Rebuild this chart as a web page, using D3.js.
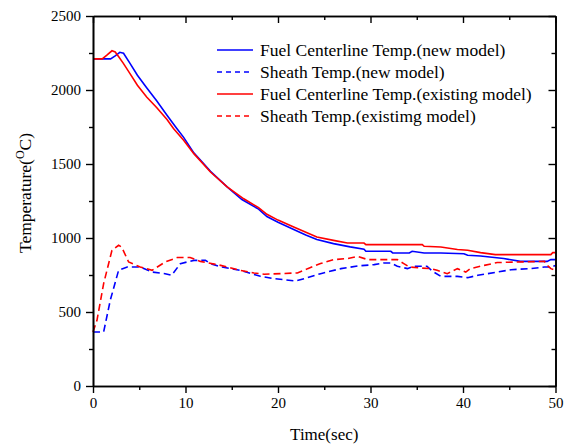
<!DOCTYPE html>
<html>
<head>
<meta charset="utf-8">
<script src="https://cdn.jsdelivr.net/npm/d3@7"></script>
<style>
  html, body { margin: 0; padding: 0; background: #fff; }
  svg { display: block; }
  text { font-family: "Liberation Serif", "Times New Roman", serif; fill: #000; }
</style>
</head>
<body>
<svg id="chart" width="571" height="446"></svg>
<script>
// ---- Data (time in sec, temperature in °C) ----
const fuelNew = [
  [0,2210],[1.9,2210],[2.4,2230],[2.9,2255],[3.3,2248],[4.0,2180],[4.8,2100],[5.8,2015],
  [6.9,1925],[8.0,1830],[9.0,1745],[9.8,1680],[10.9,1575],[12.0,1500],[12.7,1450],[14.5,1345],
  [16.1,1260],[17.9,1195],[18.8,1145],[20.0,1107],[21.7,1057],[23.0,1020],[24.2,990],[26.0,962],
  [27.8,940],[29.3,924],[29.5,910],[32.2,910],[32.4,899],[34.2,899],[34.5,910],[35.8,899],
  [37.6,899],[40.1,894],[40.5,883],[41.9,878],[44.4,861],[46.2,842],[49.1,842],[49.5,854],[50,854]
];
const sheathNew = [
  [0,365],[1.15,365],[1.87,580],[2.77,782],[3.7,804],[5.1,804],[6.4,770],[7.8,759],[8.5,748],
  [9.45,827],[10.9,849],[12.15,849],[12.7,827],[13.8,806],[15.9,782],[18.1,741],[19.5,726],
  [21.9,709],[23.2,732],[24.6,759],[26.8,793],[28.6,811],[30.4,820],[31.4,831],[32.2,831],
  [32.9,809],[34.0,793],[34.7,809],[36.1,809],[36.7,775],[37.6,741],[39.4,741],[40.5,732],
  [41.6,748],[43.7,770],[45.2,786],[47.3,793],[48.8,804],[49.5,804],[50,815]
];
const fuelExisting = [
  [0,2210],[1.0,2210],[1.5,2235],[2.05,2265],[2.4,2257],[2.8,2223],[3.3,2178],[4.0,2111],
  [4.8,2032],[5.8,1953],[6.9,1880],[8.0,1800],[8.7,1740],[9.8,1660],[10.9,1570],[12.7,1446],
  [14.5,1345],[16.3,1265],[17.9,1205],[18.8,1160],[20.0,1121],[21.7,1074],[24.2,1007],[26.0,984],
  [27.5,966],[29.3,966],[29.5,955],[35.6,955],[35.8,944],[37.6,939],[39.4,922],[40.5,917],
  [41.9,901],[43.5,888],[49.5,888],[49.7,901],[50,901]
];
const sheathExisting = [
  [0,365],[0.43,444],[1.15,692],[2.05,917],[2.77,951],[3.1,939],[3.85,838],[5.1,804],[6.4,782],
  [7.8,838],[9.1,868],[10.5,868],[11.6,842],[13.8,815],[15.9,782],[17.4,764],[18.5,755],
  [22.1,764],[23.2,793],[24.6,827],[26.0,854],[27.5,861],[28.6,876],[29.7,854],[30.7,854],
  [32.9,854],[33.6,827],[34.2,804],[35.5,797],[36.5,793],[37.2,782],[38.3,759],[39.4,793],
  [40.3,770],[40.8,793],[42.3,815],[43.7,834],[45.9,838],[48.8,842],[49.1,815],[49.5,793],[50,782]
];
const xMajorTicks = [0,10,20,30,40,50];
const xMinorTicks = [5,15,25,35,45];
const yMajorTicks = [0,500,1000,1500,2000,2500];
const yMinorTicks = [250,750,1250,1750,2250];
const legendLabels = [
  "Fuel Centerline Temp.(new model)",
  "Sheath Temp.(new model)",
  "Fuel Centerline Temp.(existing model)",
  "Sheath Temp.(existimg model)"
];
const xTitle = "Time(sec)";

// ---- Layout ----
const svg = d3.select("#chart");
const L = 93, R = 555.5, T = 16, B = 386;
const x = d3.scaleLinear().domain([0,50]).range([L,R]);
const y = d3.scaleLinear().domain([0,2500]).range([B,T]);

const BLUE = "#0000ff", RED = "#ff0000";
const series = [
  {data: fuelNew, color: BLUE, dash: null},
  {data: sheathNew, color: BLUE, dash: "7,4"},
  {data: fuelExisting, color: RED, dash: null},
  {data: sheathExisting, color: RED, dash: "7,4"}
];

const line = d3.line().x(d => x(d[0])).y(d => y(d[1]));
const plot = svg.append("g");
series.forEach(s => {
  plot.append("path")
    .attr("d", line(s.data))
    .attr("fill","none")
    .attr("stroke", s.color)
    .attr("stroke-width", 1.6)
    .attr("stroke-dasharray", s.dash);
});

// ---- Axes ----
function styleAxis(g){
  g.selectAll(".domain").attr("stroke","#000").attr("stroke-width",1.6);
  g.selectAll(".tick line").attr("stroke","#000").attr("stroke-width",1.4);
  g.selectAll(".tick text").style("font-family","Liberation Serif").style("font-size","15px").attr("fill","#000");
}
// bottom
svg.append("g").attr("transform",`translate(0,${B})`)
  .call(d3.axisBottom(x).tickValues(xMajorTicks).tickFormat(d3.format("d")).tickSizeInner(7).tickSizeOuter(0).tickPadding(4))
  .call(styleAxis);
svg.append("g").attr("transform",`translate(0,${B})`)
  .call(d3.axisBottom(x).tickValues(xMinorTicks).tickFormat("").tickSizeInner(4).tickSizeOuter(0))
  .call(styleAxis);
// left
svg.append("g").attr("transform",`translate(${L},0)`)
  .call(d3.axisLeft(y).tickValues(yMajorTicks).tickFormat(d3.format("d")).tickSizeInner(7).tickSizeOuter(0).tickPadding(5))
  .call(styleAxis);
svg.append("g").attr("transform",`translate(${L},0)`)
  .call(d3.axisLeft(y).tickValues(yMinorTicks).tickFormat("").tickSizeInner(4).tickSizeOuter(0))
  .call(styleAxis);
// top (inward)
svg.append("g").attr("transform",`translate(0,${T})`)
  .call(d3.axisTop(x).tickValues(xMajorTicks).tickFormat("").tickSizeInner(-7).tickSizeOuter(0))
  .call(styleAxis);
svg.append("g").attr("transform",`translate(0,${T})`)
  .call(d3.axisTop(x).tickValues(xMinorTicks).tickFormat("").tickSizeInner(-4).tickSizeOuter(0))
  .call(styleAxis);
// right (inward)
svg.append("g").attr("transform",`translate(${R},0)`)
  .call(d3.axisRight(y).tickValues(yMajorTicks).tickFormat("").tickSizeInner(-7).tickSizeOuter(0))
  .call(styleAxis);
svg.append("g").attr("transform",`translate(${R},0)`)
  .call(d3.axisRight(y).tickValues(yMinorTicks).tickFormat("").tickSizeInner(-4).tickSizeOuter(0))
  .call(styleAxis);

// ---- Titles ----
svg.append("text")
  .attr("x", (L+R)/2).attr("y", 440)
  .attr("text-anchor","middle")
  .style("font-size","17px")
  .text(xTitle);

const yt = svg.append("text")
  .attr("transform","translate(31,193) rotate(-90)")
  .attr("text-anchor","middle")
  .style("font-size","17.5px");
yt.append("tspan").text("Temperature(");
yt.append("tspan").attr("dy",-7).style("font-size","12px").text("O");
yt.append("tspan").attr("dy",7).text("C)");

// ---- Legend ----
const leg = svg.append("g");
legendLabels.forEach((lab,i) => {
  const s = series[i];
  const yy = 50 + i*22;
  leg.append("line")
    .attr("x1",217).attr("x2",253).attr("y1",yy).attr("y2",yy)
    .attr("stroke", s.color).attr("stroke-width",1.6)
    .attr("stroke-dasharray", s.dash ? "5,4" : null);
  leg.append("text")
    .attr("x",260).attr("y",yy).attr("dy","0.35em")
    .style("font-size","17.5px")
    .text(lab);
});
</script>
</body>
</html>
